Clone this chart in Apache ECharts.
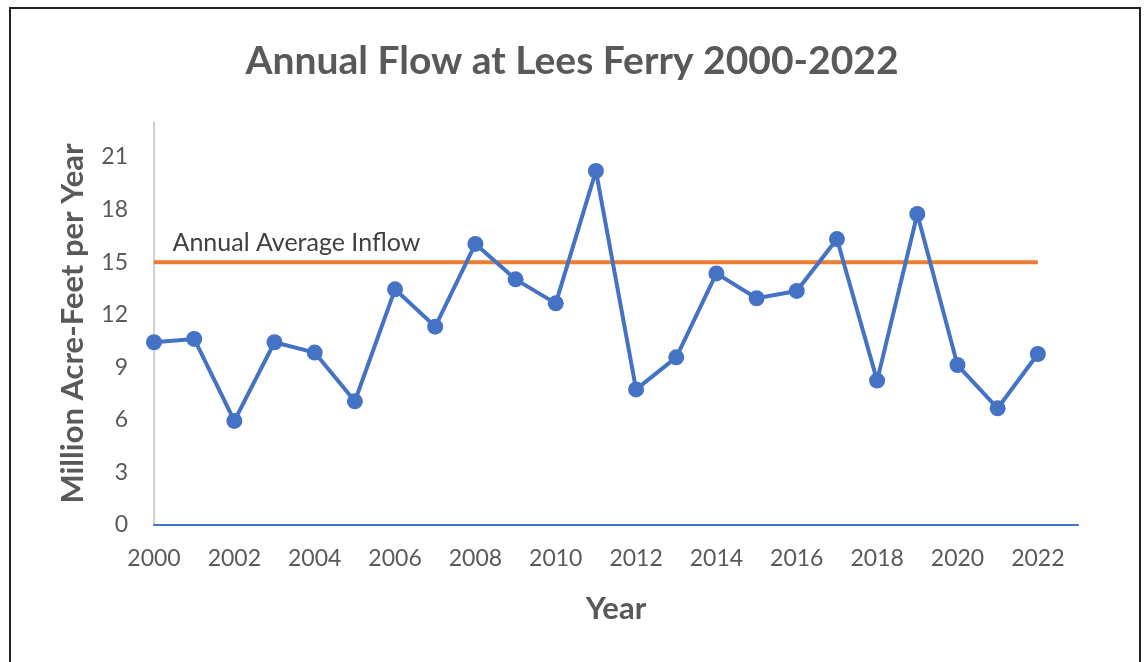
<!DOCTYPE html>
<html>
<head>
<meta charset="utf-8">
<script src="https://cdn.jsdelivr.net/npm/echarts@6/dist/echarts.min.js"></script>
<style>
html,body{margin:0;padding:0;background:#fff;}
#chart{width:1144px;height:662px;}
</style>
</head>
<body>
<div id="chart"></div>
<script>
const years = [2000,2001,2002,2003,2004,2005,2006,2007,2008,2009,2010,2011,2012,2013,2014,2015,2016,2017,2018,2019,2020,2021,2022];
const flows = [10.43,10.62,5.94,10.43,9.84,7.06,13.45,11.32,16.04,14.02,12.65,20.21,7.74,9.57,14.36,12.94,13.36,16.32,8.24,17.75,9.13,6.66,9.76];
const averageYears = [2000, 2022];
const averageValue = 15;
const averageLabel = 'Annual Average Inflow';
const titleText = 'Annual Flow at Lees Ferry 2000-2022';
const yAxisName = 'Million Acre-Feet per Year';
const xAxisName = 'Year';

const font = 'Lato, "Open Sans", sans-serif';
const chart = echarts.init(document.getElementById('chart'), null, {renderer:'canvas'});

const flowData = years.map((y, i) => [y, flows[i]]);
const avgData = averageYears.map(y => [y, averageValue]);

chart.setOption({
  animation: false,
  backgroundColor: '#fff',
  title: {
    text: titleText,
    left: 'center',
    top: 37,
    textStyle: {fontFamily: font, fontWeight: 'bold', fontSize: 39, color: '#595959'}
  },
  graphic: [{
    type: 'rect',
    shape: {x: 10, y: 8, width: 1130, height: 670},
    style: {fill: 'none', stroke: '#222', lineWidth: 2},
    silent: true
  }],
  grid: {left: 154, right: 66, top: 122, bottom: 137},
  xAxis: {
    type: 'value',
    min: 2000,
    max: 2023,
    interval: 2,
    name: xAxisName,
    nameLocation: 'middle',
    nameGap: 68,
    nameTextStyle: {fontFamily: font, fontWeight: 'bold', fontSize: 31, color: '#595959'},
    axisLine: {show: true, onZero: false, lineStyle: {color: '#4472C4', width: 2}},
    axisTick: {show: false},
    splitLine: {show: false},
    axisLabel: {
      showMaxLabel: false,
      formatter: v => String(v),
      fontFamily: font, fontSize: 23, color: '#595959', margin: 22
    }
  },
  yAxis: {
    type: 'value',
    min: 0,
    max: 23,
    interval: 3,
    name: yAxisName,
    nameLocation: 'middle',
    nameGap: 66,
    nameTextStyle: {fontFamily: font, fontWeight: 'bold', fontSize: 31, color: '#595959'},
    axisLine: {show: true, lineStyle: {color: '#BFBFBF', width: 1.5}},
    axisTick: {show: false},
    splitLine: {show: false},
    axisLabel: {showMaxLabel: false, fontFamily: font, fontSize: 23, color: '#595959', margin: 26}
  },
  series: [
    {
      name: averageLabel,
      type: 'line',
      data: avgData,
      symbol: 'none',
      lineStyle: {color: '#ED7D31', width: 4},
      markPoint: {
        symbol: 'circle',
        symbolSize: 1,
        itemStyle: {color: 'rgba(0,0,0,0)'},
        label: {
          show: true,
          formatter: averageLabel,
          position: 'right',
          offset: [13, -19],
          color: '#404040',
          fontSize: 25,
          fontFamily: font
        },
        data: [{coord: avgData[0]}]
      },
      z: 2
    },
    {
      name: 'Annual Flow',
      type: 'line',
      data: flowData,
      symbol: 'circle',
      symbolSize: 16,
      itemStyle: {color: '#4472C4'},
      lineStyle: {color: '#4472C4', width: 4},
      z: 3
    }
  ]
});
</script>
</body>
</html>
